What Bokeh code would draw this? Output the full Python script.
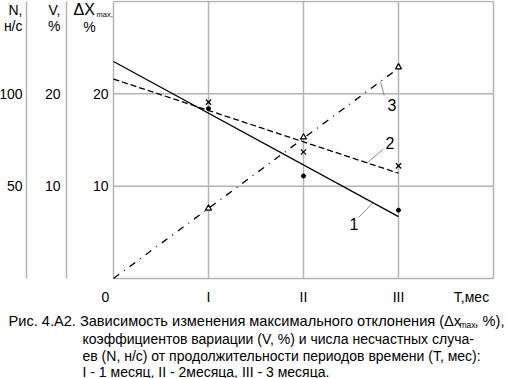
from bokeh.plotting import figure
from bokeh.models import Range1d
from bokeh.core.properties import value
from bokeh.embed import file_html
from bokeh.resources import INLINE
import numpy as np

# ---------------- data ----------------
periods = [1, 2, 3]
period_labels = ["I", "II", "III"]
dx_points = [18.4, 11.1, 7.4]        # curve 1 points (ΔXmax, %)
v_points = [19.1, 13.7, 12.2]        # curve 2 points (V, %)
n_points = [7.6, 15.3, 22.9]         # curve 3 points (ΔX scale units)
trend_x = [0, 3]
trend1 = [23.5, 6.7]
trend2 = [21.6, 11.4]
trend3_x = [0, 2.95]
trend3 = [0.0, 22.4]
dx_ticks = [10, 20]
v_ticks = [10, 20]
n_ticks = [50, 100]
N_PER_DX = 5.0                        # 50 н/с <-> 10 on ΔX scale

# ---------------- layout (page pixels) ----------------
W, H = 508, 378
PAGE0 = 0
X_MIN, X_MAX = 0, 4
Y_MIN, Y_MAX = 0, 30
CH_LEFT, CH_RIGHT = 113, 493          # chart frame, page px
CH_TOP, CH_BOTTOM = 1, 278
PXM = (CH_RIGHT - CH_LEFT) / (X_MAX - X_MIN)
PYU = (CH_BOTTOM - CH_TOP) / (Y_MAX - Y_MIN)

def px2x(px):
    return (px - CH_LEFT) / PXM

def py2y(py):
    return (CH_BOTTOM - py) / PYU

FONT = "Liberation Sans"
GRID = "#b4b4b4"

p = figure(width=W, height=H, output_backend="svg", toolbar_location=None,
           x_range=Range1d(px2x(PAGE0), px2x(PAGE0 + W)),
           y_range=Range1d(py2y(PAGE0 + H), py2y(PAGE0)),
           min_border=0, x_axis_location=None, y_axis_location=None)
p.outline_line_color = None
p.xgrid.visible = False
p.ygrid.visible = False
p.background_fill_color = "white"
p.border_fill_color = "white"

# chart frame + grid
vx = [X_MIN] + periods + [X_MAX]
p.segment(vx, [Y_MIN] * len(vx), vx, [Y_MAX] * len(vx), line_color=GRID, line_width=1.5)
hy = [Y_MIN] + dx_ticks + [Y_MAX]
p.segment([X_MIN] * len(hy), hy, [X_MAX] * len(hy), hy, line_color=GRID, line_width=1.5)
# column separators (N | V | ΔX)
sep = [px2x(26), px2x(66)]
p.segment(sep, [Y_MIN] * 2, sep, [Y_MAX] * 2, line_color=GRID, line_width=1.5)

def txt(xs, ys, texts, size="14px", align="left", baseline="middle"):
    p.text(x=xs, y=ys, text=texts, text_font=value(FONT), text_font_size=value(size),
           text_align=align, text_baseline=baseline, text_color="black")

# tick labels of the three scales
txt([px2x(108)] * 2, dx_ticks, [str(t) for t in dx_ticks], align="right")
txt([px2x(60)] * 2, v_ticks, [str(t) for t in v_ticks], align="right")
txt([px2x(22)] * 2, [t / N_PER_DX for t in n_ticks], [str(t) for t in n_ticks], align="right")
txt(periods, [py2y(296)] * 3, period_labels, align="center")
txt([px2x(105)], [py2y(296)], ["0"], align="center")
txt([px2x(471)], [py2y(296)], ["Т,мес"], align="center")

# column headers
txt([px2x(22)], [py2y(9)], ["N,"], align="right")
txt([px2x(22)], [py2y(25)], ["н/с"], align="right")
txt([px2x(60)], [py2y(9)], ["V,"], align="right")
txt([px2x(60)], [py2y(25)], ["%"], align="right")
txt([px2x(73)], [py2y(9)], ["ΔX"], size="16px")
txt([px2x(96)], [py2y(14)], ["max,"], size="7.5px")
txt([px2x(89)], [py2y(26)], ["%"], align="center")

# curves
p.line(trend_x, trend1, line_color="black", line_width=1.3)
p.line(trend_x, trend2, line_color="black", line_width=1.3, line_dash="6 3")
p.line(trend3_x, trend3, line_color="black", line_width=1.3, line_dash="7 6 1 6")
p.scatter(periods, dx_points, marker="circle", size=4, fill_color="black", line_color="black")
p.scatter(periods, v_points, marker="x", size=7.5, line_color="black", line_width=1.2)
p.scatter(periods, n_points, marker="triangle", size=6, fill_color="white",
          line_color="black", line_width=1.2)

# leader lines and curve numbers
lead_x0 = [2.58, 2.84, 2.85]
lead_y0 = [6.6, 14.0, 19.8]
lead_xe = [2.73, 2.67, 2.81]
lead_ye = [float(np.interp(lead_xe[0], trend_x, trend1)),
           float(np.interp(lead_xe[1], trend_x, trend2)),
           float(np.interp(lead_xe[2], trend3_x, trend3))]
p.segment(lead_x0, lead_y0, lead_xe, lead_ye, line_color="#8a8a8a", line_width=1)
txt([2.53, 2.91, 2.93], [5.9, 14.7, 18.8], ["1", "2", "3"], size="16px", align="center")

# caption
cap_y = [py2y(320), py2y(338), py2y(355), py2y(371)]
txt([px2x(8)], [cap_y[0]], ["Рис. 4.А2. Зависимость изменения максимального отклонения (Δx"],
    size="14.6px")
txt([px2x(459)], [cap_y[0] - 0.45], ["max"], size="8.5px")
txt([px2x(474)], [cap_y[0]], [", %),"], size="14.6px")
txt([px2x(82)] * 3, cap_y[1:],
    ["коэффициентов вариации (V, %) и числа несчастных случа-",
     "ев (N, н/с) от продолжительности периодов времени (Т, мес):",
     "I - 1 месяц, II - 2месяца, III - 3 месяца."])

open("out.html", "w").write(file_html(p, INLINE))
